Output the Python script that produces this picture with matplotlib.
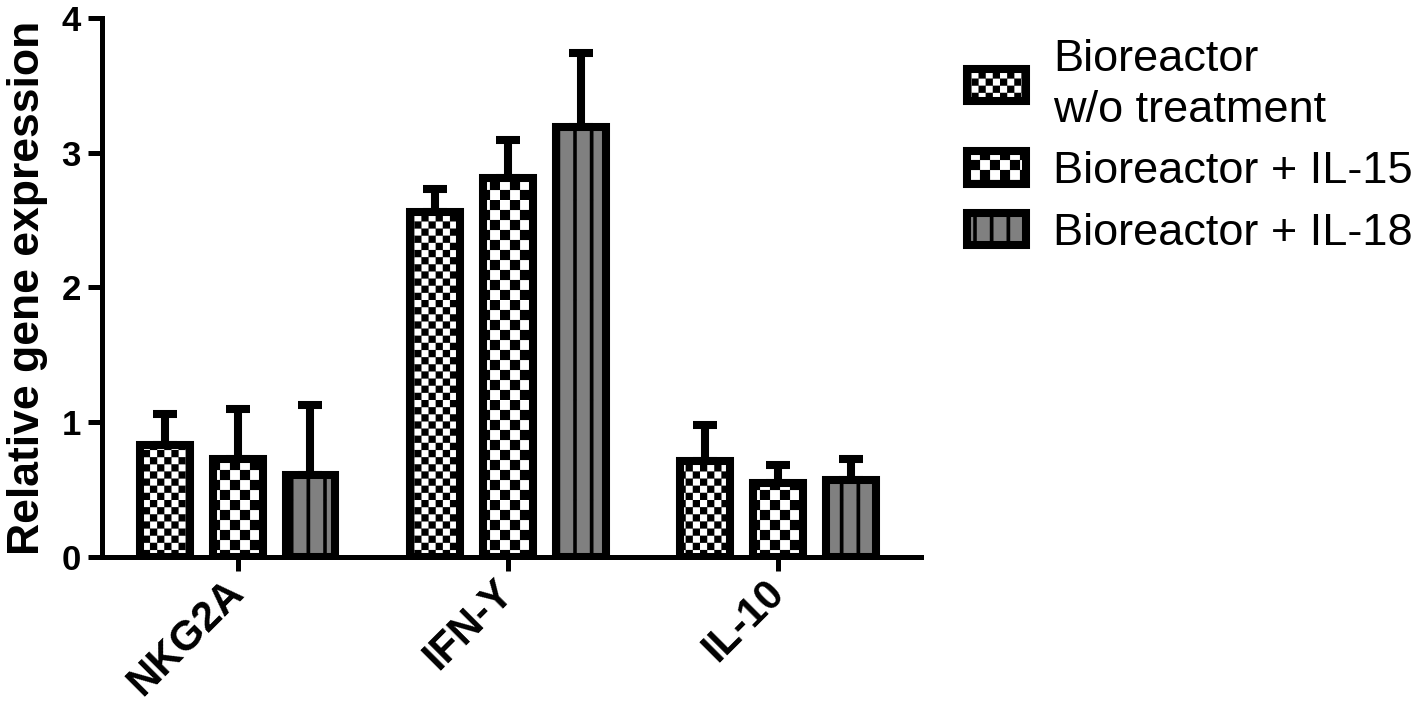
import warnings
import numpy as np
import matplotlib
matplotlib.use("Agg")
import matplotlib.pyplot as plt
import matplotlib.hatch as mhatch
from matplotlib.path import Path

warnings.filterwarnings("ignore", message=".*hatch must consist.*")

genes = ["NKG2A", "IFN-Y", "IL-10"]
groups = ["Bioreactor\nw/o treatment", "Bioreactor + IL-15", "Bioreactor + IL-18"]

# mean relative expression per group (rows) and gene (cols)
means = [
    [0.83, 2.56, 0.71],
    [0.73, 2.81, 0.55],
    [0.61, 3.19, 0.57],
]
# upper error (SD) per group and gene
errs = [
    [0.23, 0.17, 0.27],
    [0.37, 0.28, 0.13],
    [0.52, 0.55, 0.16],
]

face = ["white", "white", "#808080"]
hatches = ["k", "K", "v"]


# checkerboard fill: 'k' fine, 'K' coarse
class CheckerHatch(mhatch.HatchPatternBase):
    def __init__(self, hatch, density):
        self.n = 14 if "k" in hatch else (10 if "K" in hatch else 0)
        self.num_vertices = (self.n * self.n // 2) * 5

    def set_vertices_and_codes(self, vertices, codes):
        n = self.n
        s = 1.0 / n
        k = 0
        for i in range(n):
            for j in range(n):
                if (i + j) % 2:
                    continue
                x, y = j * s, i * s
                vertices[k:k + 5] = [(x, y), (x + s, y), (x + s, y + s), (x, y + s), (x, y)]
                codes[k:k + 5] = [Path.MOVETO, Path.LINETO, Path.LINETO, Path.LINETO, Path.CLOSEPOLY]
                k += 5


# filled vertical stripes: 'v'
class StripeHatch(mhatch.HatchPatternBase):
    def __init__(self, hatch, density):
        self.n = 6 if "v" in hatch else 0
        self.num_vertices = self.n * 5

    def set_vertices_and_codes(self, vertices, codes):
        w = 0.035
        for i in range(self.n):
            x = (i + 0.5) / self.n - w / 2
            k = i * 5
            vertices[k:k + 5] = [(x, 0), (x + w, 0), (x + w, 1), (x, 1), (x, 0)]
            codes[k:k + 5] = [Path.MOVETO, Path.LINETO, Path.LINETO, Path.LINETO, Path.CLOSEPOLY]


mhatch._hatch_types.extend([CheckerHatch, StripeHatch])

plt.rcParams["font.family"] = ["Liberation Sans", "DejaVu Sans"]
plt.rcParams["hatch.linewidth"] = 0.1

fig = plt.figure(figsize=(14.17, 7.02), dpi=100)
ax = fig.add_axes([0.0718, 0.2066, 0.650 - 0.0718, 0.9746 - 0.2066])

x = np.arange(len(genes))
width = 0.185
offset = 0.27
bars = []
for i in range(3):
    pos = x + (i - 1) * offset
    ax.errorbar(pos, means[i], yerr=[np.zeros(3), errs[i]], fmt="none",
                ecolor="black", elinewidth=5.8, capsize=8.5, capthick=5.8, zorder=2)
    b = ax.bar(pos, means[i], width, color=face[i], edgecolor="black",
               linewidth=5.8, hatch=hatches[i], label=groups[i], zorder=3)
    bars.append(b)

ax.set_xlim(-0.503, 2.531)
ax.set_ylim(0, 4)
ax.set_yticks([0, 1, 2, 3, 4])
ax.set_xticks(x)
ax.set_xticklabels(genes, rotation=45, ha="right", va="center",
                   rotation_mode="anchor", fontsize=30, fontweight="bold")
ax.tick_params(axis="y", labelsize=25, width=3.6, length=10, pad=5)
ax.tick_params(axis="x", width=3.6, length=10, pad=11)
for lab in ax.get_yticklabels():
    lab.set_fontweight("bold")

ax.set_ylabel("Relative gene expression", fontsize=32, fontweight="bold", labelpad=10)

for s in ["top", "right"]:
    ax.spines[s].set_visible(False)
for s in ["left", "bottom"]:
    ax.spines[s].set_linewidth(3.6)

leg = fig.legend(handles=bars, labels=groups, loc="upper left",
                 bbox_to_anchor=(967 / 1417, 0.944), frameon=False, fontsize=32.5,
                 handlelength=1.3, handleheight=0.72, handletextpad=0.6,
                 labelspacing=0.45, borderpad=0, borderaxespad=0)
for t in leg.get_texts():
    t.set_linespacing(1.3)

fig.savefig("out.png", dpi=100)
